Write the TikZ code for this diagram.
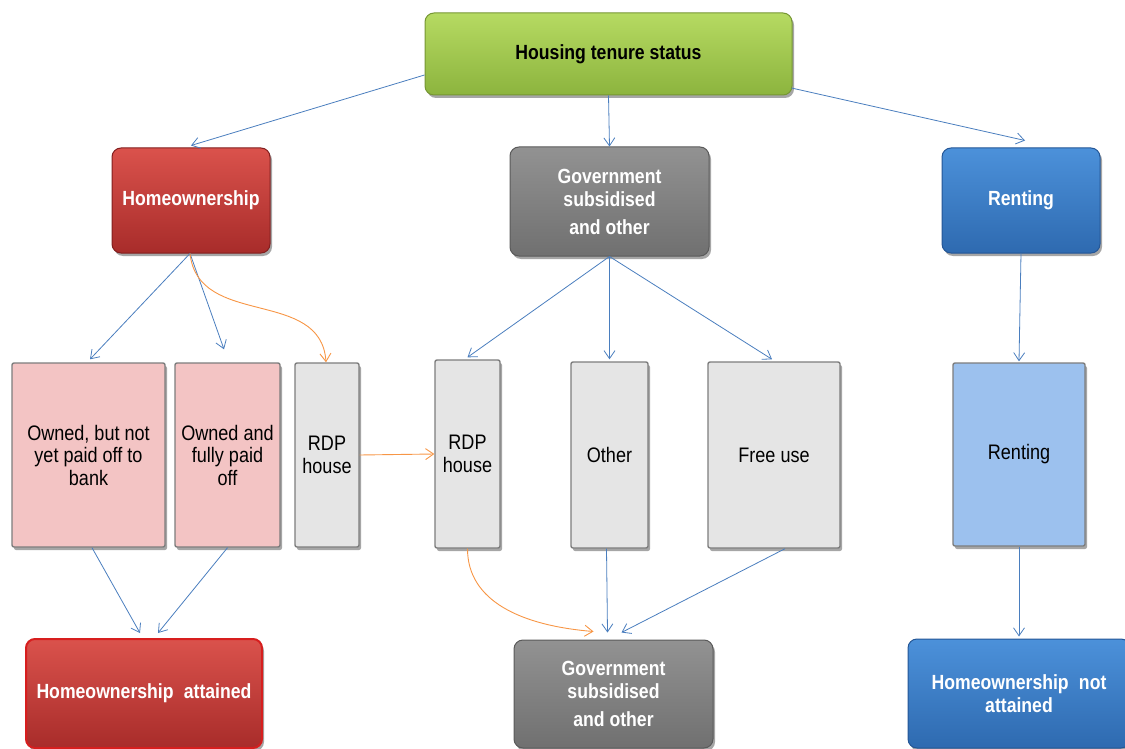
\documentclass[tikz,border=0pt]{standalone}
\usepackage{fontspec}
\setmainfont{Liberation Sans}
\newfontfamily\narrowfont[FakeStretch=0.86]{Liberation Sans}
\usetikzlibrary{arrows.meta,shadows}

% palette
\definecolor{greenA}{RGB}{182,218,98}
\definecolor{greenB}{RGB}{140,180,62}
\definecolor{greenD}{RGB}{118,150,52}
\definecolor{redA}{RGB}{218,82,76}
\definecolor{redB}{RGB}{168,44,42}
\definecolor{redD}{RGB}{130,30,30}
\definecolor{redE}{RGB}{215,30,30}
\definecolor{grayA}{RGB}{146,146,146}
\definecolor{grayB}{RGB}{112,112,112}
\definecolor{grayD}{RGB}{90,90,90}
\definecolor{blueA}{RGB}{76,145,218}
\definecolor{blueB}{RGB}{46,106,176}
\definecolor{blueD}{RGB}{36,86,150}
\definecolor{pinkfill}{RGB}{243,196,196}
\definecolor{lgrayfill}{RGB}{229,229,229}
\definecolor{lbluefill}{RGB}{156,193,238}
\definecolor{edgegray}{RGB}{125,125,125}
\definecolor{linkblue}{RGB}{74,126,190}
\definecolor{linkorange}{RGB}{247,150,70}

\tikzset{
  boxbase/.style={rectangle, align=center, inner sep=2pt,
    drop shadow={shadow xshift=2pt, shadow yshift=-3pt, opacity=0.35, fill=black}},
  headbox/.style={boxbase, rounded corners=9pt, line width=1pt, text=white,
    font=\narrowfont\fontsize{20.5}{23}\selectfont\bfseries},
  greenbox/.style={headbox, top color=greenA, bottom color=greenB, draw=greenD, text=black},
  redbox/.style={headbox, top color=redA, bottom color=redB, draw=redD},
  redbright/.style={headbox, top color=redA, bottom color=redB, draw=redE, line width=2pt},
  graybox/.style={headbox, top color=grayA, bottom color=grayB, draw=grayD},
  bluebox/.style={headbox, top color=blueA, bottom color=blueB, draw=blueD},
  itembox/.style={boxbase, rounded corners=2pt, draw=edgegray, line width=1.4pt,
    text=black, font=\narrowfont\fontsize{21}{22.5}\selectfont},
  pinkbox/.style={itembox, fill=pinkfill},
  lgraybox/.style={itembox, fill=lgrayfill},
  lbluebox/.style={itembox, fill=lbluefill},
  link/.style={draw=linkblue, line width=0.8pt,
    -{Straight Barb[length=8pt,width=11pt,line width=0.8pt]}},
  orangelink/.style={draw=linkorange, line width=0.9pt,
    -{Straight Barb[length=8pt,width=11pt,line width=0.9pt]}}
}

\begin{document}
\begin{tikzpicture}[x=1pt,y=-1pt]
\useasboundingbox (0,0) rectangle (1125,749);

% top level
\node[greenbox, minimum width=367pt, minimum height=82pt] (top) at (608.5,54) {Housing tenure status};

% second level
\node[redbox, minimum width=158pt, minimum height=105pt] (home) at (191,200.5) {Homeownership};
\node[graybox, minimum width=199pt, minimum height=109pt] (gov) at (609.5,201.5)
  {Government\\subsidised\\[5pt]and other};
\node[bluebox, minimum width=158pt, minimum height=105pt] (rent) at (1021,200.5) {Renting};

% categories
\node[pinkbox, minimum width=153pt, minimum height=184pt] (own1) at (88.5,455)
  {Owned, but not\\yet paid off to\\bank};
\node[pinkbox, minimum width=105pt, minimum height=184pt] (own2) at (227.5,455)
  {Owned and\\fully paid\\off};
\node[lgraybox, minimum width=64pt, minimum height=184pt] (rdp1) at (327,455) {RDP\\house};
\node[lgraybox, minimum width=65pt, minimum height=188pt] (rdp2) at (467.5,454) {RDP\\house};
\node[lgraybox, minimum width=77pt, minimum height=186pt] (other) at (609.5,455) {Other};
\node[lgraybox, minimum width=132pt, minimum height=186pt] (free) at (774,455) {Free use};
\node[lbluebox, minimum width=132pt, minimum height=183pt] (rent2) at (1019,454.5) {Renting};

% outcomes
\node[redbright, minimum width=236pt, minimum height=109pt] (ha) at (144,693.5) {Homeownership\enspace attained};
\node[graybox, minimum width=199pt, minimum height=108pt] (gov2) at (613.5,694)
  {Government\\subsidised\\[5pt]and other};
\node[bluebox, minimum width=222pt, minimum height=109pt] (hna) at (1019,693.5)
  {Homeownership\enspace not\\attained};

% connectors from the top
\draw[link] ([yshift=-21pt]top.west) -- ([yshift=2pt]home.north);
\draw[link] (top.south) -- (gov.north);
\draw[link] ([xshift=-1pt,yshift=-34pt]top.east) -- ([xshift=4pt,yshift=7pt]rent.north);

% homeownership branch
\draw[link] ([xshift=-1pt]home.south) -- ([xshift=1.5pt,yshift=3pt]own1.north);
\draw[link] ([xshift=-1pt]home.south) -- ([xshift=-3.5pt,yshift=13pt]own2.north);
\draw[orangelink] ([xshift=-1pt]home.south) .. controls +(8,75) and +(-5,-75) .. ([xshift=-1pt]rdp1.north);

% government branch
\draw[link] (gov.south) -- ([yshift=2pt]rdp2.north);
\draw[link] (gov.south) -- ([yshift=2pt]other.north);
\draw[link] (gov.south) -- ([xshift=-2pt,yshift=2pt]free.north);
\draw[orangelink] (rdp1.east) -- (rdp2.west);

% renting branch
\draw[link] (rent.south) -- ([yshift=1pt]rent2.north);

% to the outcomes
\draw[link] ([xshift=3.5pt]own1.south) -- ([xshift=-4pt,yshift=5pt]ha.north);
\draw[link] (own2.south) -- ([xshift=14pt,yshift=5pt]ha.north);
\draw[orangelink] (rdp2.south) .. controls +(0,52) and +(-73,-6) .. ([xshift=-20pt,yshift=8pt]gov2.north);
\draw[link] ([xshift=-3pt]other.south) -- ([xshift=-6pt,yshift=7pt]gov2.north);
\draw[link] ([xshift=11pt]free.south) -- ([xshift=8pt,yshift=7pt]gov2.north);
\draw[link] (rent2.south) -- ([yshift=2pt]hna.north);
\end{tikzpicture}
\end{document}
